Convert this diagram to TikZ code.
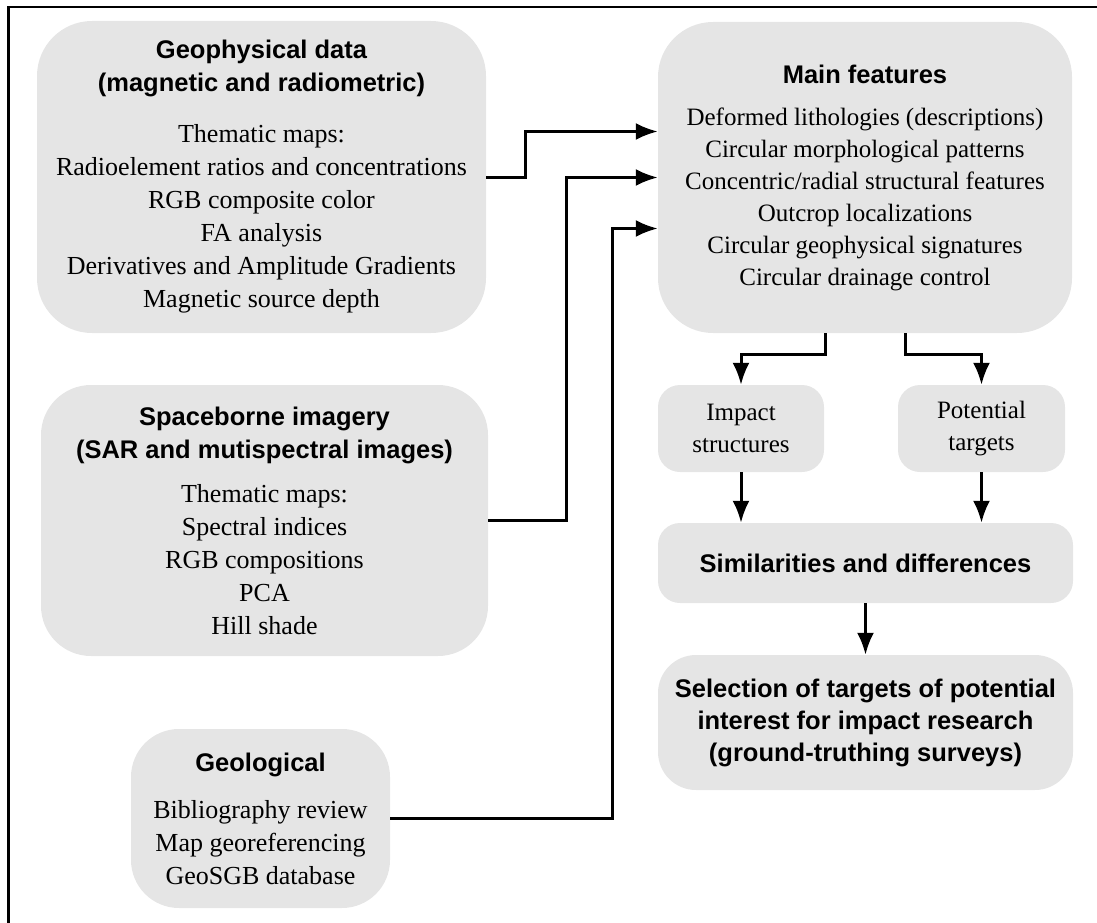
\documentclass[tikz,border=0pt]{standalone}
\usepackage{fontspec}
\setmainfont{Liberation Serif}
\newfontfamily\hdfont{Liberation Sans}
\usetikzlibrary{arrows.meta}
\newcommand\hd[2][25.5]{{\hdfont\bfseries\fontsize{#1}{32}\selectfont #2}}

\begin{document}
\begin{tikzpicture}[
    x=1pt, y=-1pt,
    block/.style={rectangle, rounded corners=#1, fill=gray!20, align=center, inner sep=0pt,
        font=\fontsize{25}{32}\selectfont},
    block/.default=22pt,
    source/.style={block=#1, font=\fontsize{26}{33}\selectfont},
    link/.style={line width=3pt, -{Latex[length=22pt,width=17pt]}},
    frame/.style={line width=2.5pt}
]
\useasboundingbox (0,0) rectangle (1097,923);
\draw[frame] (1097,7) -- (8.5,7) -- (8.5,923);

% sources
\node[source=55pt, minimum width=449pt, minimum height=312pt] (geo) at (261.5,177)
    {\hd{Geophysical data}\\\hd{(magnetic and radiometric)}\\[18pt]
     Thematic maps:\\Radioelement ratios and concentrations\\RGB composite color\\
     FA analysis\\Derivatives and Amplitude Gradients\\Magnetic source depth};
\node[source=50pt, minimum width=447pt, minimum height=271pt] (space) at (264.5,520.5)
    {\hd{Spaceborne imagery}\\\hd{(SAR and mutispectral images)}\\[11pt]
     Thematic maps:\\Spectral indices\\RGB compositions\\PCA\\Hill shade};
\node[source=48pt, minimum width=259pt, minimum height=179pt] (geol) at (260.5,818.5)
    {\hd{Geological}\\[14pt]
     Bibliography review\\Map georeferencing\\GeoSGB database};

% results
\node[block=55pt, minimum width=414pt, minimum height=311pt] (main) at (865,177.5)
    {\hd{Main features}\\[10pt]
     Deformed lithologies (descriptions)\\Circular morphological patterns\\
     Concentric/radial structural features\\Outcrop localizations\\
     Circular geophysical signatures\\Circular drainage control};
\node[block, minimum width=166pt, minimum height=87pt] (impact) at (741,428.5)
    {Impact\\structures};
\node[block, minimum width=167pt, minimum height=87pt] (potential) at (981.5,428.5)
    {Potential\\targets};
\node[block, minimum width=415pt, minimum height=80pt] (simil) at (865.5,563)
    {\hd{Similarities and differences}};
\node[block=38pt, minimum width=415pt, minimum height=135pt] (select) at (865.5,722.5)
    {\hd{Selection of targets of potential}\\\hd{interest for impact research}\\
     \hd{(ground-truthing surveys)}};

% connectors
\draw[link] (geo.east) -- ++(39,0) |- ([yshift=46pt]main.west);
\draw[link] (space.east) -- ++(78,0) |- (main.west);
\draw[link] (geol.east) -- ++(222,0) |- ([yshift=-51pt]main.west);
\draw[link] ([xshift=-40pt]main.south) -- ++(0,21) -| (impact.north);
\draw[link] ([xshift=40pt]main.south) -- ++(0,21) -| (potential.north);
\draw[link] (impact.south) -- (impact.south |- simil.north);
\draw[link] (potential.south) -- (potential.south |- simil.north);
\draw[link] (simil.south) -- (select.north);
\end{tikzpicture}
\end{document}
